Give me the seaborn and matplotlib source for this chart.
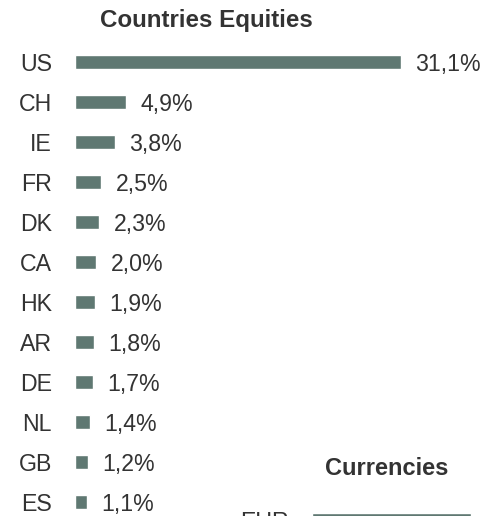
import matplotlib
matplotlib.use("Agg")
import matplotlib.pyplot as plt
import seaborn as sns
import pandas as pd

sns.set_theme(style="white")
plt.rcParams["font.family"] = ["Liberation Sans", "DejaVu Sans"]

# Country weights (%)
countries = ["US", "CH", "IE", "FR", "DK", "CA", "HK", "AR", "DE", "NL", "GB", "ES"]
weights = [31.1, 4.9, 3.8, 2.5, 2.3, 2.0, 1.9, 1.8, 1.7, 1.4, 1.2, 1.1]

# Currency weights (%)
currencies = ["EUR"]
currency_weights = [50.0]

BAR = "#5f7872"
TXT = "#333333"
FS = 16.7

W, H = 487, 516
fig = plt.figure(figsize=(W / 100, H / 100), dpi=100)


def fx(px):
    return px / W


def fy(px):
    return 1 - px / H


def fmt(v):
    return f"{v:.1f}".replace(".", ",") + "%"


def draw(ax, cats, vals, xmax):
    df = pd.DataFrame({"cat": cats, "val": vals})
    sns.barplot(data=df, x="val", y="cat", orient="h", color=BAR,
                saturation=1, width=0.36, ax=ax)
    ax.set_xlim(0, xmax)
    ax.set_xlabel("")
    ax.set_ylabel("")
    ax.set_xticks([])
    ax.tick_params(axis="y", length=0, pad=16.5, labelsize=FS, labelcolor=TXT)
    for s in ax.spines.values():
        s.set_visible(False)
    for i, v in enumerate(vals):
        ax.annotate(fmt(v), xy=(v, i), xytext=(10.5, 0), textcoords="offset points",
                    va="center_baseline", ha="left", fontsize=FS, color=TXT)


# Countries panel: rows 40 px apart, first row centred at y=62
n = len(countries)
top_px = 62 - 20
ax1 = fig.add_axes([fx(75), fy(top_px + 40 * n), fx(398), 40 * n / H])
draw(ax1, countries, weights, 398 / 10.48)
ax1.set_ylim(n - 0.5, -0.5)
fig.text(fx(206), fy(27), "Countries Equities", ha="center", va="baseline",
         fontsize=17.4, fontweight="bold", color=TXT)

# Currencies panel
ax2 = fig.add_axes([fx(312), fy(540), fx(175), 40 / H])
draw(ax2, currencies, currency_weights, 55)
ax2.set_ylim(0.5, -0.5)
fig.text(fx(386.5), fy(475), "Currencies", ha="center", va="baseline",
         fontsize=17, fontweight="bold", color=TXT)

fig.savefig("out.png", dpi=100)
